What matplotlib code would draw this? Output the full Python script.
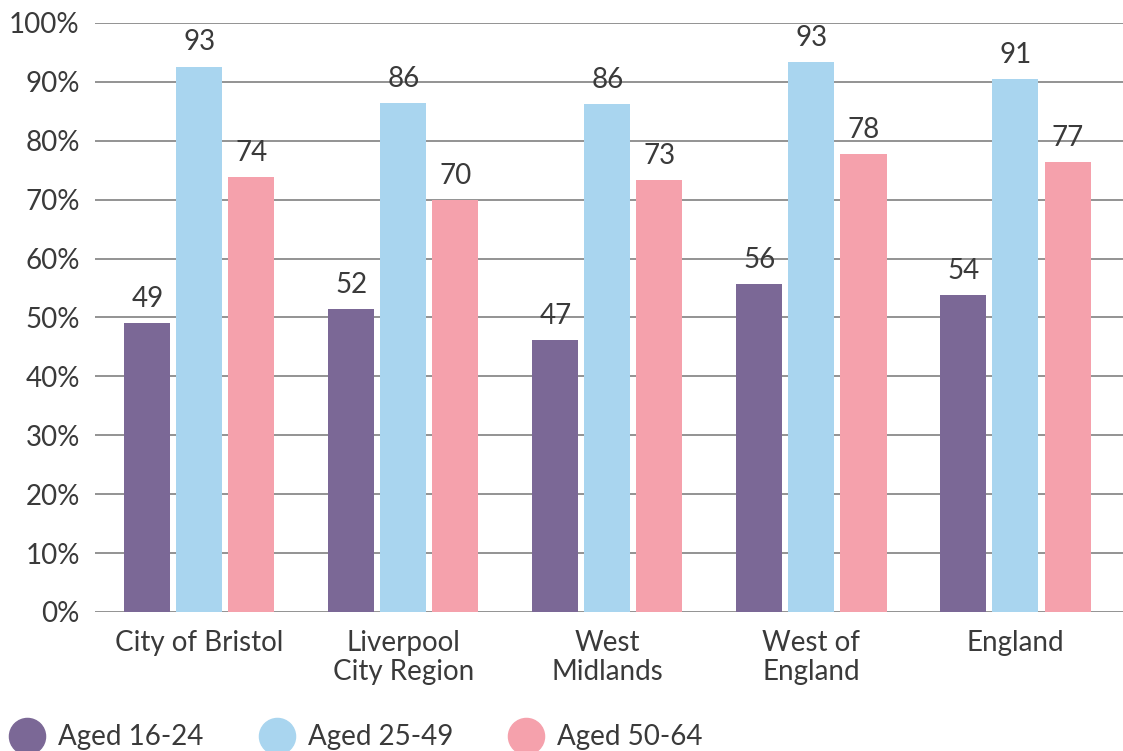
import matplotlib
matplotlib.use("Agg")
import matplotlib.pyplot as plt
from matplotlib.lines import Line2D
import numpy as np

categories = ["City of Bristol", "Liverpool\nCity Region", "West\nMidlands", "West of\nEngland", "England"]
series_names = ["Aged 16-24", "Aged 25-49", "Aged 50-64"]
aged_16_24 = [49.0, 51.4, 46.2, 55.7, 53.8]
aged_25_49 = [92.6, 86.4, 86.2, 93.4, 90.5]
aged_50_64 = [73.9, 69.9, 73.3, 77.8, 76.4]
labels_16_24 = ["49", "52", "47", "56", "54"]
labels_25_49 = ["93", "86", "86", "93", "91"]
labels_50_64 = ["74", "70", "73", "78", "77"]
y_ticks = [0, 10, 20, 30, 40, 50, 60, 70, 80, 90, 100]

colors = ["#7B6896", "#A9D5EF", "#F5A1AC"]
text_color = "#3a3a3a"
plt.rcParams['font.family'] = ['Lato', 'DejaVu Sans']
fs = 20

fig = plt.figure(figsize=(11.23, 7.51), dpi=100)
ax = fig.add_axes([95/1123, 1-612/751, 1-95/1123, (612-23)/751])

x = np.arange(len(categories))
width = 0.2255
step = 0.255
all_vals = [aged_16_24, aged_25_49, aged_50_64]
all_labels = [labels_16_24, labels_25_49, labels_50_64]
for i, (vals, labs) in enumerate(zip(all_vals, all_labels)):
    bars = ax.bar(x + (i-1)*step, vals, width, color=colors[i], zorder=3)
    ax.bar_label(bars, labels=labs, padding=8, fontsize=fs, color=text_color)

ax.set_ylim(0, 100)
ax.set_xlim(-0.512, 4.527)
ax.set_yticks(y_ticks)
ax.set_yticklabels([f"{v}%" for v in y_ticks])
ax.set_xticks(x)
ax.set_xticklabels(categories, linespacing=1.15)
ax.tick_params(axis='both', length=0, labelsize=fs, labelcolor=text_color)
ax.tick_params(axis='y', pad=11)
ax.tick_params(axis='x', pad=13)
ax.yaxis.grid(True, color="#808080", linewidth=1.2, zorder=0)
for s in ax.spines.values():
    s.set_visible(False)

handles = [Line2D([], [], marker='o', linestyle='none', markersize=26,
                  markerfacecolor=c, markeredgecolor=c) for c in colors]
fig.legend(handles, series_names, loc='lower left', bbox_to_anchor=(-0.010, -0.025),
           ncol=3, frameon=False, fontsize=fs, labelcolor=text_color,
           handletextpad=0.45, columnspacing=1.95, borderpad=0.2, handlelength=1.35)

fig.savefig("out.png", dpi=100)
